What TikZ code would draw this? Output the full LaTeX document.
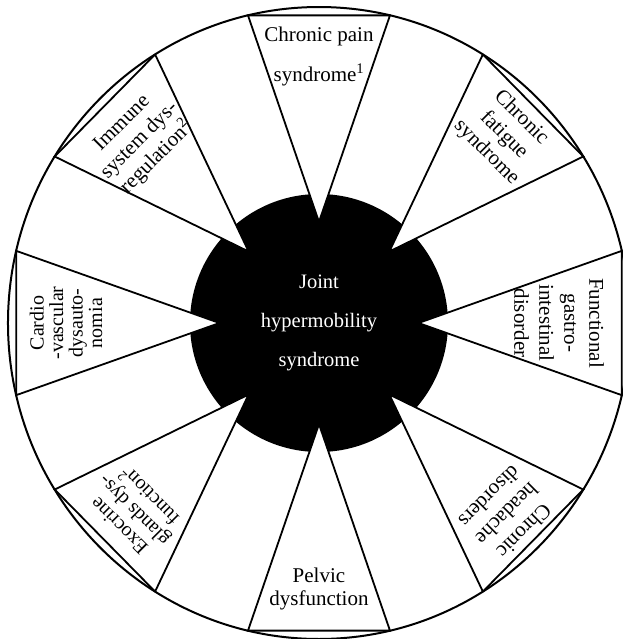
\documentclass[tikz,border=0pt]{standalone}
\usepackage{fontspec}
\setmainfont{Liberation Serif}
\begin{document}
\begin{tikzpicture}[x=311pt,y=316pt,
  wedge/.style={fill=white,draw=black,line width=1.8pt},
  lbl/.style={align=center,inner sep=0pt},
]
\useasboundingbox (-1.0257,-1) rectangle (0.9775,1.0222);
\fill[black] (0,0) circle [radius=129pt];
\foreach \a in {90,45,0,-45,-90,-135,180,135}
  \draw[wedge] (\a+13.2:1) -- (\a:0.32) -- (\a-13.2:1) -- cycle;
\draw[line width=2pt] (0,0) circle [x radius=311pt, y radius=316pt];
\node[lbl,font=\fontsize{21}{40}\selectfont] (pain) at (90:0.845) {Chronic pain\\syndrome\textsuperscript{1}};
\node[lbl,rotate=-45,font=\fontsize{21}{24.5}\selectfont] (fatigue) at (45:0.84) {Chronic\\fatigue\\syndrome};
\node[lbl,rotate=-90,font=\fontsize{21}{25}\selectfont] (gi) at (0:0.772) {Functional\\gastro-\\intestinal\\disorder};
\node[lbl,rotate=-135,font=\fontsize{21}{24.5}\selectfont] (headache) at (-45:0.855) {Chronic\\headache\\disorders};
\node[lbl,font=\fontsize{21}{22.5}\selectfont] (pelvic) at (-90:0.842) {Pelvic\\dysfunction};
\node[lbl,rotate=135,font=\fontsize{20}{21}\selectfont] (exocrine) at (-135:0.84) {Exocrine\\glands dys-\\function\textsuperscript{2}};
\node[lbl,rotate=90,font=\fontsize{20}{19.5}\selectfont] (cardio) at (180:0.813) {Cardio\\-vascular\\dysauto-\\nomia};
\node[lbl,rotate=45,font=\fontsize{21}{24.5}\selectfont] (immune) at (135:0.815) {Immune\\system dys-\\regulation\textsuperscript{2}};
\node[lbl,text=white,font=\fontsize{20.5}{39}\selectfont] (jhs) at (0,0) {Joint\\hypermobility\\syndrome};
\end{tikzpicture}
\end{document}
